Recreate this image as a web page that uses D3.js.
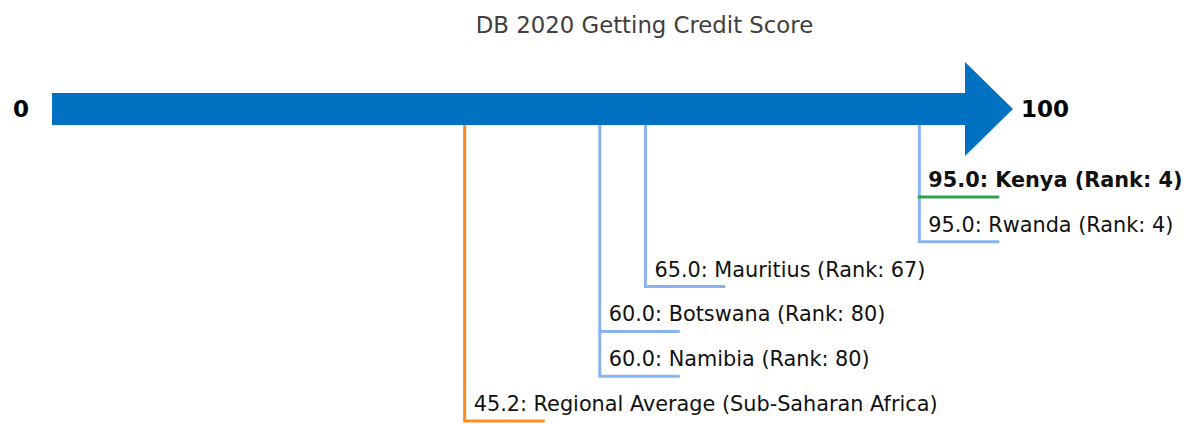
<!DOCTYPE html>
<html>
<head>
<meta charset="utf-8">
<script src="https://cdn.jsdelivr.net/npm/d3@7"></script>
<style>
  body { margin: 0; background: #fff; }
  text { font-family: "DejaVu Sans", sans-serif; }
</style>
</head>
<body>
<svg></svg>
<script>
const width = 1185;
const height = 424;

// data
const names = ['Kenya', 'Rwanda', 'Mauritius', 'Botswana', 'Namibia', 'Regional Average (Sub-Saharan Africa)'];
const scores = [95.0, 95.0, 65.0, 60.0, 60.0, 45.2];
const ranks = [4, 4, 67, 80, 80, null];
const kinds = ['focus', 'peer', 'peer', 'peer', 'peer', 'average'];
const domainLabels = ['0', '100'];

const rows = names.map((n, i) => ({name: n, score: scores[i], rank: ranks[i], kind: kinds[i], level: i}));

const colors = {focus: '#2ca24a', peer: '#8ab4f0', average: '#ff8b1f'};

const svg = d3.select('svg')
    .attr('width', width)
    .attr('height', height);

const xScale = d3.scaleLinear()
    .domain([0, 100])
    .range([52, 965]);

const yScale = d3.scalePoint()
    .domain(d3.range(rows.length))
    .range([197, 421]);

const barTop = 93;
const barBottom = 125;
const barMid = (barTop + barBottom) / 2;

svg.append('text')
  .attr('x', width / 2 + 52)
  .attr('y', 33)
  .style('text-anchor', 'middle')
  .style('font-size', '22.8px')
  .attr('fill', '#404040')
  .text('DB 2020 Getting Credit Score');

// arrow body + head
const headLen = 48;
svg.append('path')
  .attr('d', `M${xScale(0)},${barTop} L${xScale(100)},${barTop} L${xScale(100)},${barMid - 47}
              L${xScale(100) + headLen},${barMid} L${xScale(100)},${barMid + 47}
              L${xScale(100)},${barBottom} L${xScale(0)},${barBottom} Z`)
  .attr('fill', '#0070c0');

svg.append('text')
  .attr('x', xScale(0) - 31)
  .attr('y', barMid)
  .attr('dy', '0.35em')
  .style('text-anchor', 'middle')
  .style('font-size', '23px')
  .style('font-weight', 'bold')
  .text(domainLabels[0]);

svg.append('text')
  .attr('x', xScale(100) + headLen + 8)
  .attr('y', barMid)
  .attr('dy', '0.35em')
  .style('font-size', '23px')
  .style('font-weight', 'bold')
  .text(domainLabels[1]);

// vertical leaders: one per distinct score, reaching the deepest row
const groups = d3.groups(rows, d => d.score);
svg.selectAll('line.leader')
.data(groups)
.enter()
.append('line')
  .attr('class', 'leader')
  .attr('x1', d => xScale(d[0]))
  .attr('x2', d => xScale(d[0]))
  .attr('y1', barBottom)
  .attr('y2', d => yScale(d3.max(d[1], r => r.level)))
  .attr('stroke', d => colors[d[1][d[1].length - 1].kind === 'average' ? 'average' : 'peer'])
  .attr('stroke-width', 3);

// horizontal underlines
svg.selectAll('line.under')
.data(rows)
.enter()
.append('line')
  .attr('class', 'under')
  .attr('x1', d => xScale(d.score) - 1.5)
  .attr('x2', d => xScale(d.score) + 80)
  .attr('y1', d => yScale(d.level))
  .attr('y2', d => yScale(d.level))
  .attr('stroke', d => colors[d.kind])
  .attr('stroke-width', 3);

svg.selectAll('text.lbl')
.data(rows)
.enter()
.append('text')
  .attr('class', 'lbl')
  .attr('x', d => xScale(d.score) + 9)
  .attr('y', d => yScale(d.level) - 10)
  .style('font-size', '20.8px')
  .style('font-weight', d => d.kind === 'focus' ? 'bold' : 'normal')
  .attr('fill', '#111')
  .text(d => `${d.score.toFixed(1)}: ${d.name}` + (d.rank ? ` (Rank: ${d.rank})` : ''));
</script>
</body>
</html>
